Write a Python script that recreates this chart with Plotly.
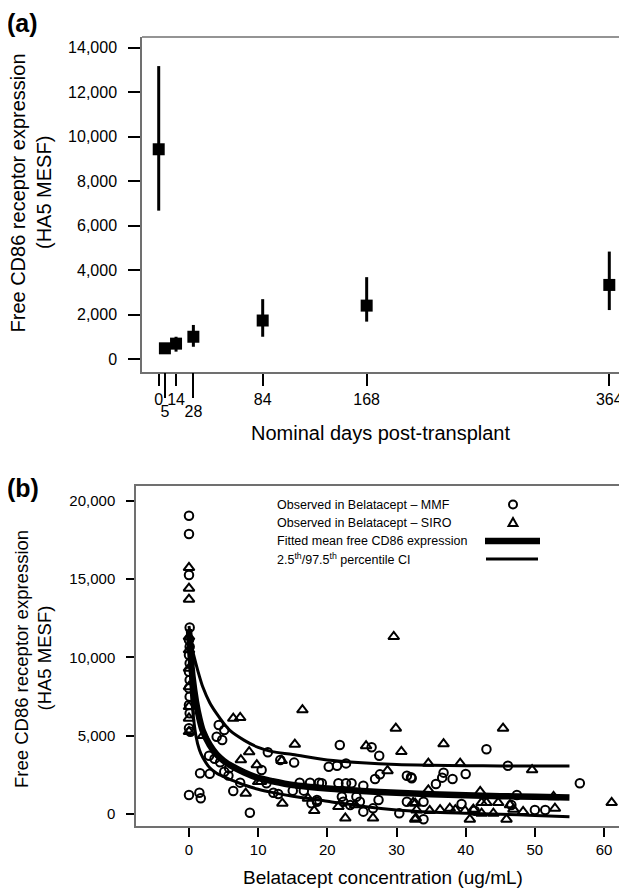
import plotly.graph_objects as go

# ---------------- Panel (a) data ----------------
days = [0, 5, 14, 28, 84, 168, 364]
cd86_mean = [9430, 480, 690, 1000, 1730, 2400, 3330]
cd86_upper = [13170, 680, 1000, 1530, 2690, 3680, 4830]
cd86_lower = [6670, 320, 330, 550, 1000, 1680, 2200]
days_ticks_short = [0, 14, 84, 168, 364]
days_ticks_long = [5, 28]

# ---------------- Panel (b) data ----------------
mmf_conc = [0, 0, 0, 0.1, 0, 0.1, 0, 0.1, 0, 0.1, 0, 0.1, 0, 0.1, 0, 0.2, 0,
            1.5, 1.7, 1.6, 3.0, 2.9, 3.7, 4.3, 5.1, 4.0, 4.8, 4.5, 5.1, 5.8, 5.7, 6.4, 7.4,
            8.8, 10.5, 11.2, 11.4, 12.2, 12.9, 13.2, 15.2, 15.0, 16.0, 17.5, 16.6, 17.7, 18.5, 18.8,
            21.8, 26.4, 27.5, 20.2, 21.4, 22.7, 26.9, 27.6, 31.5, 32.1, 19.2, 21.6, 22.7, 23.5, 25.2,
            18.5, 22.1, 22.3, 23.3, 24.2, 24.7, 25.2, 27.4, 26.6, 30.4, 31.5,
            43.0, 46.1, 32.2, 36.8, 36.6, 38.1, 40.0, 35.7, 33.9, 33.9, 39.4, 41.3, 46.6, 56.5,
            50.0, 51.5, 47.4]
mmf_cd86 = [19030, 17870, 15250, 11900, 11100, 10680, 10150, 9620, 9080, 8550, 8020, 7490, 6960,
            6430, 5470, 5250, 1210,
            1360, 1000, 2600, 2570, 3720, 3530, 5680, 5360, 4930, 4720, 3300, 2700, 2920, 2450, 1470,
            2000, 80, 2810, 1960, 3940, 1360, 1280, 3450, 3280, 1490, 2000, 2000, 1490, 680, 890, 2000,
            4400, 4260, 3720, 3020, 3080, 3230, 2230, 2530, 2440, 2340, 1960, 1960, 1960, 1960, 1810,
            785, 1100, 785, 575, 1100, 785, 150, 890, 360, 40, 785,
            4130, 3080, 2280, 2640, 2320, 2230, 2550, 1910, 785, -340, 640, 210, 575, 1960,
            255, 255, 1210]

siro_conc = [0, 0, 0, 0, 0, 0, 0, 0, 0, 0, 2.0,
             6.4, 7.4, 7.5, 8.7, 8.2, 9.8, 10.0, 10.4, 13.5, 13.4, 15.3, 16.4, 17.2, 18.1,
             29.6, 29.9, 30.7, 25.6, 28.7, 21.6, 22.6, 24.0, 26.6, 32.7, 32.8,
             45.4, 36.8, 34.6, 39.2, 34.6, 42.1, 32.4, 32.9, 34.8, 36.3, 37.7, 38.5, 39.9, 41.1,
             42.3, 43.0, 44.7, 46.4, 32.7, 40.6, 42.3, 44.0, 45.9, 49.6, 61.1, 52.7, 52.9, 48.3, 46.9]
siro_cd86 = [15720, 14400, 13700, 11310, 10470, 9300, 8120, 6850, 6110, 5250, 5000,
             6100, 6150, 3450, 3960, 1320, 3130, 2060, 2060, 680, 3400, 4450, 6640, 1000, 210,
             11320, 5470, 3980, 4340, 2760, 470, -270, 575, -270, 680, -270,
             5470, 4470, 3230, 3230, 1530, 1420, 720, 255, 210, 255, 360, 255, 210, 300,
             720, 720, 720, 575, -340, -340, 40, 40, -340, 2810, 720, 1100, 360, 150, 300]

curve_conc = [0, 0.25, 0.5, 1, 1.5, 2, 3, 4, 5, 6, 8, 10, 12, 15, 20, 25, 30, 35, 40, 45, 50, 55]
fit_mean = [11800, 10000, 8800, 7200, 6100, 5300, 4400, 3800, 3400, 3100, 2650, 2300, 2100, 1850,
            1630, 1470, 1350, 1260, 1190, 1140, 1100, 1060]
fit_upper = [12000, 11200, 10500, 9600, 8800, 8100, 7100, 6400, 5800, 5300, 4700, 4250, 3980, 3800,
             3450, 3270, 3160, 3110, 3080, 3070, 3070, 3070]
fit_lower = [11600, 8500, 6800, 5000, 4100, 3600, 2950, 2600, 2380, 2200, 1850, 1580, 1380, 1130,
             820, 500, 260, 120, 40, -20, -90, -170]

legend_labels = ["Observed in Belatacept \u2013 MMF", "Observed in Belatacept \u2013 SIRO",
                 "Fitted mean free CD86 expression",
                 "2.5<sup>th</sup>/97.5<sup>th</sup> percentile CI"]

# ---------------- Layout helpers ----------------
# the page body has an 8px margin, so the figure is placed 8px in from the top-left
OFF = 8
W, H = 627 - OFF, 890 - OFF
FONT = "Liberation Sans, Arial, sans-serif"
BOX = "#707070"


def pxx(p):
    return (p - OFF) / W


def pxy(p):
    return 1 - (p - OFF) / H


fig = go.Figure()

# Panel (a)
fig.add_trace(go.Scatter(
    x=days, y=cd86_mean, mode="markers", xaxis="x", yaxis="y",
    marker=dict(symbol="square", size=12, color="black"),
    error_y=dict(type="data", symmetric=False,
                 array=[u - m for u, m in zip(cd86_upper, cd86_mean)],
                 arrayminus=[m - l for m, l in zip(cd86_mean, cd86_lower)],
                 thickness=3, width=0, color="black"),
    showlegend=False, hoverinfo="skip"))
# invisible helper so that the overlaid long-tick axis is drawn
fig.add_trace(go.Scatter(x=days[:1], y=cd86_mean[:1], mode="markers", xaxis="x3", yaxis="y",
                         marker=dict(opacity=0), showlegend=False, hoverinfo="skip"))

# Panel (b)
fig.add_trace(go.Scatter(x=curve_conc, y=fit_upper, mode="lines", xaxis="x2", yaxis="y2",
                         line=dict(color="black", width=3, shape="spline", smoothing=0.8),
                         showlegend=False, hoverinfo="skip"))
fig.add_trace(go.Scatter(x=curve_conc, y=fit_lower, mode="lines", xaxis="x2", yaxis="y2",
                         line=dict(color="black", width=3, shape="spline", smoothing=0.8),
                         showlegend=False, hoverinfo="skip"))
fig.add_trace(go.Scatter(x=curve_conc, y=fit_mean, mode="lines", xaxis="x2", yaxis="y2",
                         line=dict(color="black", width=6.5, shape="spline", smoothing=0.8),
                         showlegend=False, hoverinfo="skip"))
fig.add_trace(go.Scatter(x=mmf_conc, y=mmf_cd86, mode="markers", xaxis="x2", yaxis="y2",
                         marker=dict(symbol="circle-open", size=8.5, color="black",
                                     line=dict(width=2, color="black")),
                         showlegend=False, hoverinfo="skip"))
fig.add_trace(go.Scatter(x=siro_conc, y=siro_cd86, mode="markers", xaxis="x2", yaxis="y2",
                         marker=dict(symbol="triangle-up-open", size=9.5, color="black",
                                     line=dict(width=2, color="black")),
                         showlegend=False, hoverinfo="skip"))

tickfont_a = dict(family=FONT, size=16, color="black")
tickfont_b = dict(family=FONT, size=15, color="black")

fig.update_layout(
    width=W, height=H,
    margin=dict(l=0, r=0, t=0, b=0),
    paper_bgcolor="white", plot_bgcolor="white",
    font=dict(family=FONT, color="black"),
    xaxis=dict(domain=[pxx(142), 1.0], anchor="y", range=[-13.5, 378.3],
               tickvals=days_ticks_short, ticktext=[str(v) for v in days_ticks_short],
               ticks="outside", ticklen=12, tickwidth=2, tickcolor="black",
               ticklabelstandoff=0,
               showline=True, linecolor=BOX, linewidth=1.5, mirror=False,
               showgrid=False, zeroline=False, tickfont=tickfont_a),
    xaxis3=dict(overlaying="x", anchor="y", side="bottom", range=[-13.5, 378.3],
                tickvals=days_ticks_long, ticktext=[str(v) for v in days_ticks_long],
                ticks="outside", ticklen=25, tickwidth=2, tickcolor="black",
                ticklabelstandoff=0,
                showline=False, showgrid=False, zeroline=False, tickfont=tickfont_a),
    yaxis=dict(domain=[pxy(372), pxy(37)], anchor="x", range=[-585, 14478],
               tickvals=[0, 2000, 4000, 6000, 8000, 10000, 12000, 14000], tickformat=",d",
               ticks="outside", ticklen=12, tickwidth=2, tickcolor="black",
               ticklabelstandoff=8,
               showline=True, linecolor=BOX, linewidth=1.5, mirror=False,
               showgrid=False, zeroline=False, tickfont=tickfont_a),
    xaxis2=dict(domain=[pxx(136), pxx(623)], anchor="y2", range=[-7.66, 62.74],
                tickvals=[0, 10, 20, 30, 40, 50, 60],
                ticks="outside", ticklen=9, tickwidth=2, tickcolor="black",
                showline=True, linecolor=BOX, linewidth=1.5, mirror=True,
                showgrid=False, zeroline=False, tickfont=tickfont_b),
    yaxis2=dict(domain=[pxy(826), pxy(486)], anchor="x2", range=[-766, 20932],
                tickvals=[0, 5000, 10000, 15000, 20000], tickformat=",d",
                ticks="outside", ticklen=8, tickwidth=2, tickcolor="black",
                ticklabelstandoff=8,
                showline=True, linecolor=BOX, linewidth=1.5, mirror=True,
                showgrid=False, zeroline=False, tickfont=tickfont_b),
)

shapes = []
# top border of panel (a) (box runs off the right edge)
shapes.append(dict(type="line", xref="paper", yref="paper", x0=pxx(142), x1=1.0,
                   y0=pxy(37), y1=pxy(37), line=dict(color=BOX, width=1.5)))
# legend symbols (panel b)
shapes.append(dict(type="circle", xref="paper", yref="paper", xsizemode="pixel", ysizemode="pixel",
                   xanchor=pxx(513), yanchor=pxy(504.5), x0=-4, x1=4, y0=-4, y1=4,
                   line=dict(color="black", width=2)))
shapes.append(dict(type="path", xref="paper", yref="paper", xsizemode="pixel", ysizemode="pixel",
                   xanchor=pxx(513), yanchor=pxy(522.5), path="M -4.5,-3.5 L 4.5,-3.5 L 0,4.5 Z",
                   line=dict(color="black", width=2)))
shapes.append(dict(type="line", xref="paper", yref="paper", x0=pxx(485), x1=pxx(540),
                   y0=pxy(541), y1=pxy(541), line=dict(color="black", width=6.5)))
shapes.append(dict(type="line", xref="paper", yref="paper", x0=pxx(486), x1=pxx(538),
                   y0=pxy(559), y1=pxy(559), line=dict(color="black", width=3)))
fig.update_layout(shapes=shapes)

ann = []
# panel letters
ann.append(dict(text="<b>(a)</b>", x=pxx(6), y=pxy(23), xref="paper", yref="paper",
                xanchor="left", yanchor="middle", showarrow=False, borderpad=0,
                font=dict(family=FONT, size=25, color="black")))
ann.append(dict(text="<b>(b)</b>", x=pxx(6), y=pxy(488), xref="paper", yref="paper",
                xanchor="left", yanchor="middle", showarrow=False, borderpad=0,
                font=dict(family=FONT, size=25, color="black")))
# panel (a) axis titles
ann.append(dict(text="Free CD86 receptor expression", x=pxx(17.5), y=pxy(193), xref="paper",
                yref="paper", textangle=-90, xanchor="center", yanchor="middle", showarrow=False,
                font=dict(family=FONT, size=20, color="black")))
ann.append(dict(text="(HA5 MESF)", x=pxx(44), y=pxy(193), xref="paper",
                yref="paper", textangle=-90, xanchor="center", yanchor="middle", showarrow=False,
                font=dict(family=FONT, size=20, color="black")))
ann.append(dict(text="Nominal days post-transplant", x=pxx(381), y=pxy(433), xref="paper",
                yref="paper", xanchor="center", yanchor="middle", showarrow=False,
                font=dict(family=FONT, size=20, color="black")))
# panel (b) axis titles
ann.append(dict(text="Free CD86 receptor expression", x=pxx(21), y=pxy(659), xref="paper",
                yref="paper", textangle=-90, xanchor="center", yanchor="middle", showarrow=False,
                font=dict(family=FONT, size=18.5, color="black")))
ann.append(dict(text="(HA5 MESF)", x=pxx(43.5), y=pxy(658), xref="paper",
                yref="paper", textangle=-90, xanchor="center", yanchor="middle", showarrow=False,
                font=dict(family=FONT, size=18.5, color="black")))
ann.append(dict(text="Belatacept concentration (ug/mL)", x=pxx(383), y=pxy(877), xref="paper",
                yref="paper", xanchor="center", yanchor="middle", showarrow=False,
                font=dict(family=FONT, size=19, color="black")))
# legend text
for lab, yy in zip(legend_labels, [504.5, 522.5, 540.5, 558.5]):
    ann.append(dict(text=lab, x=pxx(275), y=pxy(yy), xref="paper", yref="paper",
                    xanchor="left", yanchor="middle", showarrow=False,
                    font=dict(family=FONT, size=12.5, color="black")))
fig.update_layout(annotations=ann)

fig.write_html("out.html")
